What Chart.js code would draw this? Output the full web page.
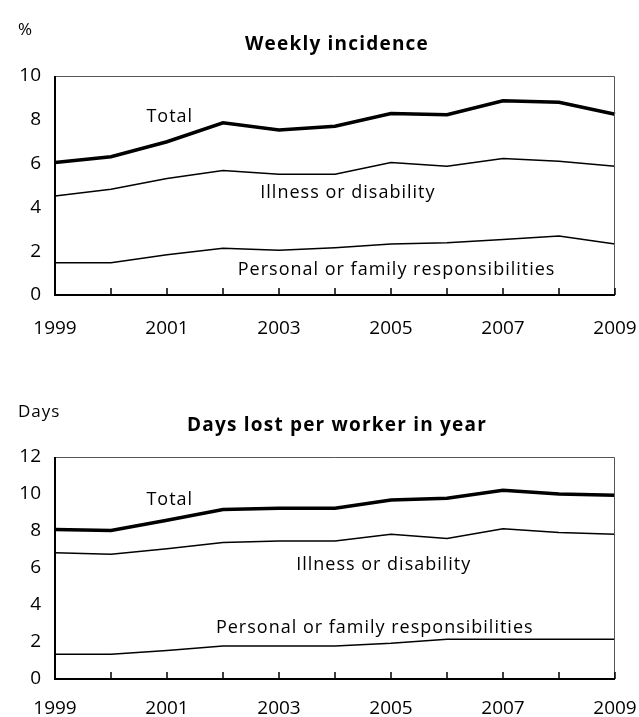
<!DOCTYPE html>
<html>
<head>
<meta charset="utf-8">
<script src="https://cdn.jsdelivr.net/npm/chart.js@4.4.1/dist/chart.umd.min.js"></script>
<style>
  body { margin: 0; background: #fff; }
  #wrap { position: relative; width: 639px; height: 717px; }
  .box { position: absolute; left: 0; width: 639px; }
  #box1 { top: 0; height: 350px; }
  #box2 { top: 370px; height: 347px; }
</style>
</head>
<body>
<div id="wrap">
  <div class="box" id="box1"><canvas id="incidence-chart"></canvas></div>
  <div class="box" id="box2"><canvas id="days-chart"></canvas></div>
</div>
<script>
const years = ["1999", "2000", "2001", "2002", "2003", "2004", "2005", "2006", "2007", "2008", "2009"];

// Weekly incidence, %
const incTotal    = [6.05, 6.31, 7.00, 7.86, 7.53, 7.71, 8.29, 8.23, 8.87, 8.80, 8.25];
const incIllness  = [4.52, 4.83, 5.32, 5.68, 5.51, 5.51, 6.05, 5.88, 6.23, 6.11, 5.88];
const incPersonal = [1.47, 1.47, 1.84, 2.14, 2.04, 2.16, 2.33, 2.39, 2.53, 2.69, 2.33];

// Days lost per worker in year
const daysTotal    = [8.08, 8.03, 8.58, 9.16, 9.23, 9.23, 9.68, 9.77, 10.20, 10.00, 9.93];
const daysIllness  = [6.83, 6.75, 7.04, 7.38, 7.46, 7.46, 7.82, 7.60, 8.12, 7.92, 7.82];
const daysPersonal = [1.34, 1.34, 1.54, 1.78, 1.78, 1.78, 1.93, 2.15, 2.15, 2.15, 2.15];

const incTicks = [0, 2, 4, 6, 8, 10];
const daysTicks = [0, 2, 4, 6, 8, 10, 12];

const FONT = "'Open Sans', 'DejaVu Sans', sans-serif";

function makeChart(id, opts) {
  const ctx = document.getElementById(id);
  new Chart(ctx, {
    type: 'line',
    data: {
      labels: years,
      datasets: [
        { label: 'Total', data: opts.total, borderColor: '#000', borderWidth: 3.5, pointRadius: 0, fill: false },
        { label: 'Illness or disability', data: opts.illness, borderColor: '#000', borderWidth: 1.5, pointRadius: 0, fill: false },
        { label: 'Personal or family responsibilities', data: opts.personal, borderColor: '#000', borderWidth: 1.5, pointRadius: 0, fill: false }
      ]
    },
    options: {
      responsive: true,
      maintainAspectRatio: false,
      animation: false,
      layout: {
        padding: { top: opts.padTop, right: 24, bottom: opts.padBottom, left: 0 }
      },
      elements: { line: { tension: 0 } },
      scales: {
        x: {
          grid: { display: false, drawTicks: false },
          border: { display: false },
          afterFit: function(scale) {
            scale.height = opts.xHeight;
            scale.paddingLeft = 0;
            scale.paddingRight = 0;
          },
          ticks: {
            color: '#000',
            font: { family: FONT, size: 19 },
            padding: opts.xPad,
            autoSkip: false,
            maxRotation: 0,
            callback: function(value, index) {
              return index % 2 === 0 ? years[index] : '';
            }
          }
        },
        y: {
          min: 0,
          max: opts.ticks[opts.ticks.length - 1],
          grid: { display: false, drawTicks: false },
          border: { display: false },
          afterFit: function(scale) { scale.width = 55; },
          afterBuildTicks: function(scale) {
            scale.ticks = opts.ticks.map(function(v) { return { value: v }; });
          },
          ticks: {
            color: '#000',
            font: { family: FONT, size: 19 },
            padding: 14
          }
        }
      },
      plugins: {
        legend: { display: false },
        tooltip: { enabled: false }
      }
    },
    plugins: [{
      id: 'frameAndLabels',
      afterDatasetsDraw: function(chart) {
        const c = chart.ctx;
        const a = chart.chartArea;
        const xs = chart.scales.x;
        const ys = chart.scales.y;
        c.save();
        // thin top and right border
        c.strokeStyle = '#555';
        c.lineWidth = 1;
        c.beginPath();
        c.moveTo(a.left, a.top + 0.5);
        c.lineTo(a.right - 0.5, a.top + 0.5);
        c.lineTo(a.right - 0.5, a.bottom);
        c.stroke();
        // axes
        c.strokeStyle = '#000';
        c.lineWidth = 2;
        c.beginPath();
        c.moveTo(a.left, a.top);
        c.lineTo(a.left, a.bottom);
        c.lineTo(a.right, a.bottom);
        c.stroke();
        // tick marks inside
        c.lineWidth = 1.5;
        c.beginPath();
        for (let i = 0; i < years.length; i++) {
          const px = xs.getPixelForValue(i);
          c.moveTo(px, a.bottom);
          c.lineTo(px, a.bottom - 7);
        }
        c.stroke();
        // unit and title
        c.fillStyle = '#000';
        c.textBaseline = 'middle';
        c.textAlign = 'left';
        c.letterSpacing = '1px';
        c.font = '17px ' + FONT;
        c.fillText(opts.unit, 18, opts.unitY);
        c.textAlign = 'center';
        c.letterSpacing = '1.2px';
        c.font = 'bold 19px ' + FONT;
        c.fillText(opts.title, (a.left + a.right) / 2 + 2, opts.titleY);
        // series labels
        c.letterSpacing = '1px';
        c.font = '18px ' + FONT;
        opts.notes.forEach(function(n) {
          c.fillText(n.text, xs.getPixelForValue(n.x), ys.getPixelForValue(n.y));
        });
        c.restore();
      }
    }]
  });
}

makeChart('incidence-chart', {
  total: incTotal, illness: incIllness, personal: incPersonal,
  ticks: incTicks,
  padTop: 76, padBottom: 5, xHeight: 50, xPad: 22,
  unit: '%', unitY: 30,
  title: 'Weekly incidence', titleY: 45,
  notes: [
    { text: 'Total', x: 2.05, y: 8.12 },
    { text: 'Illness or disability', x: 5.23, y: 4.65 },
    { text: 'Personal or family responsibilities', x: 6.1, y: 1.17 }
  ]
});

makeChart('days-chart', {
  total: daysTotal, illness: daysIllness, personal: daysPersonal,
  ticks: daysTicks,
  padTop: 87, padBottom: 0, xHeight: 38, xPad: 18,
  unit: 'Days', unitY: 42,
  title: 'Days lost per worker in year', titleY: 56,
  notes: [
    { text: 'Total', x: 2.05, y: 9.69 },
    { text: 'Illness or disability', x: 5.87, y: 6.17 },
    { text: 'Personal or family responsibilities', x: 5.71, y: 2.76 }
  ]
});
</script>
</body>
</html>
